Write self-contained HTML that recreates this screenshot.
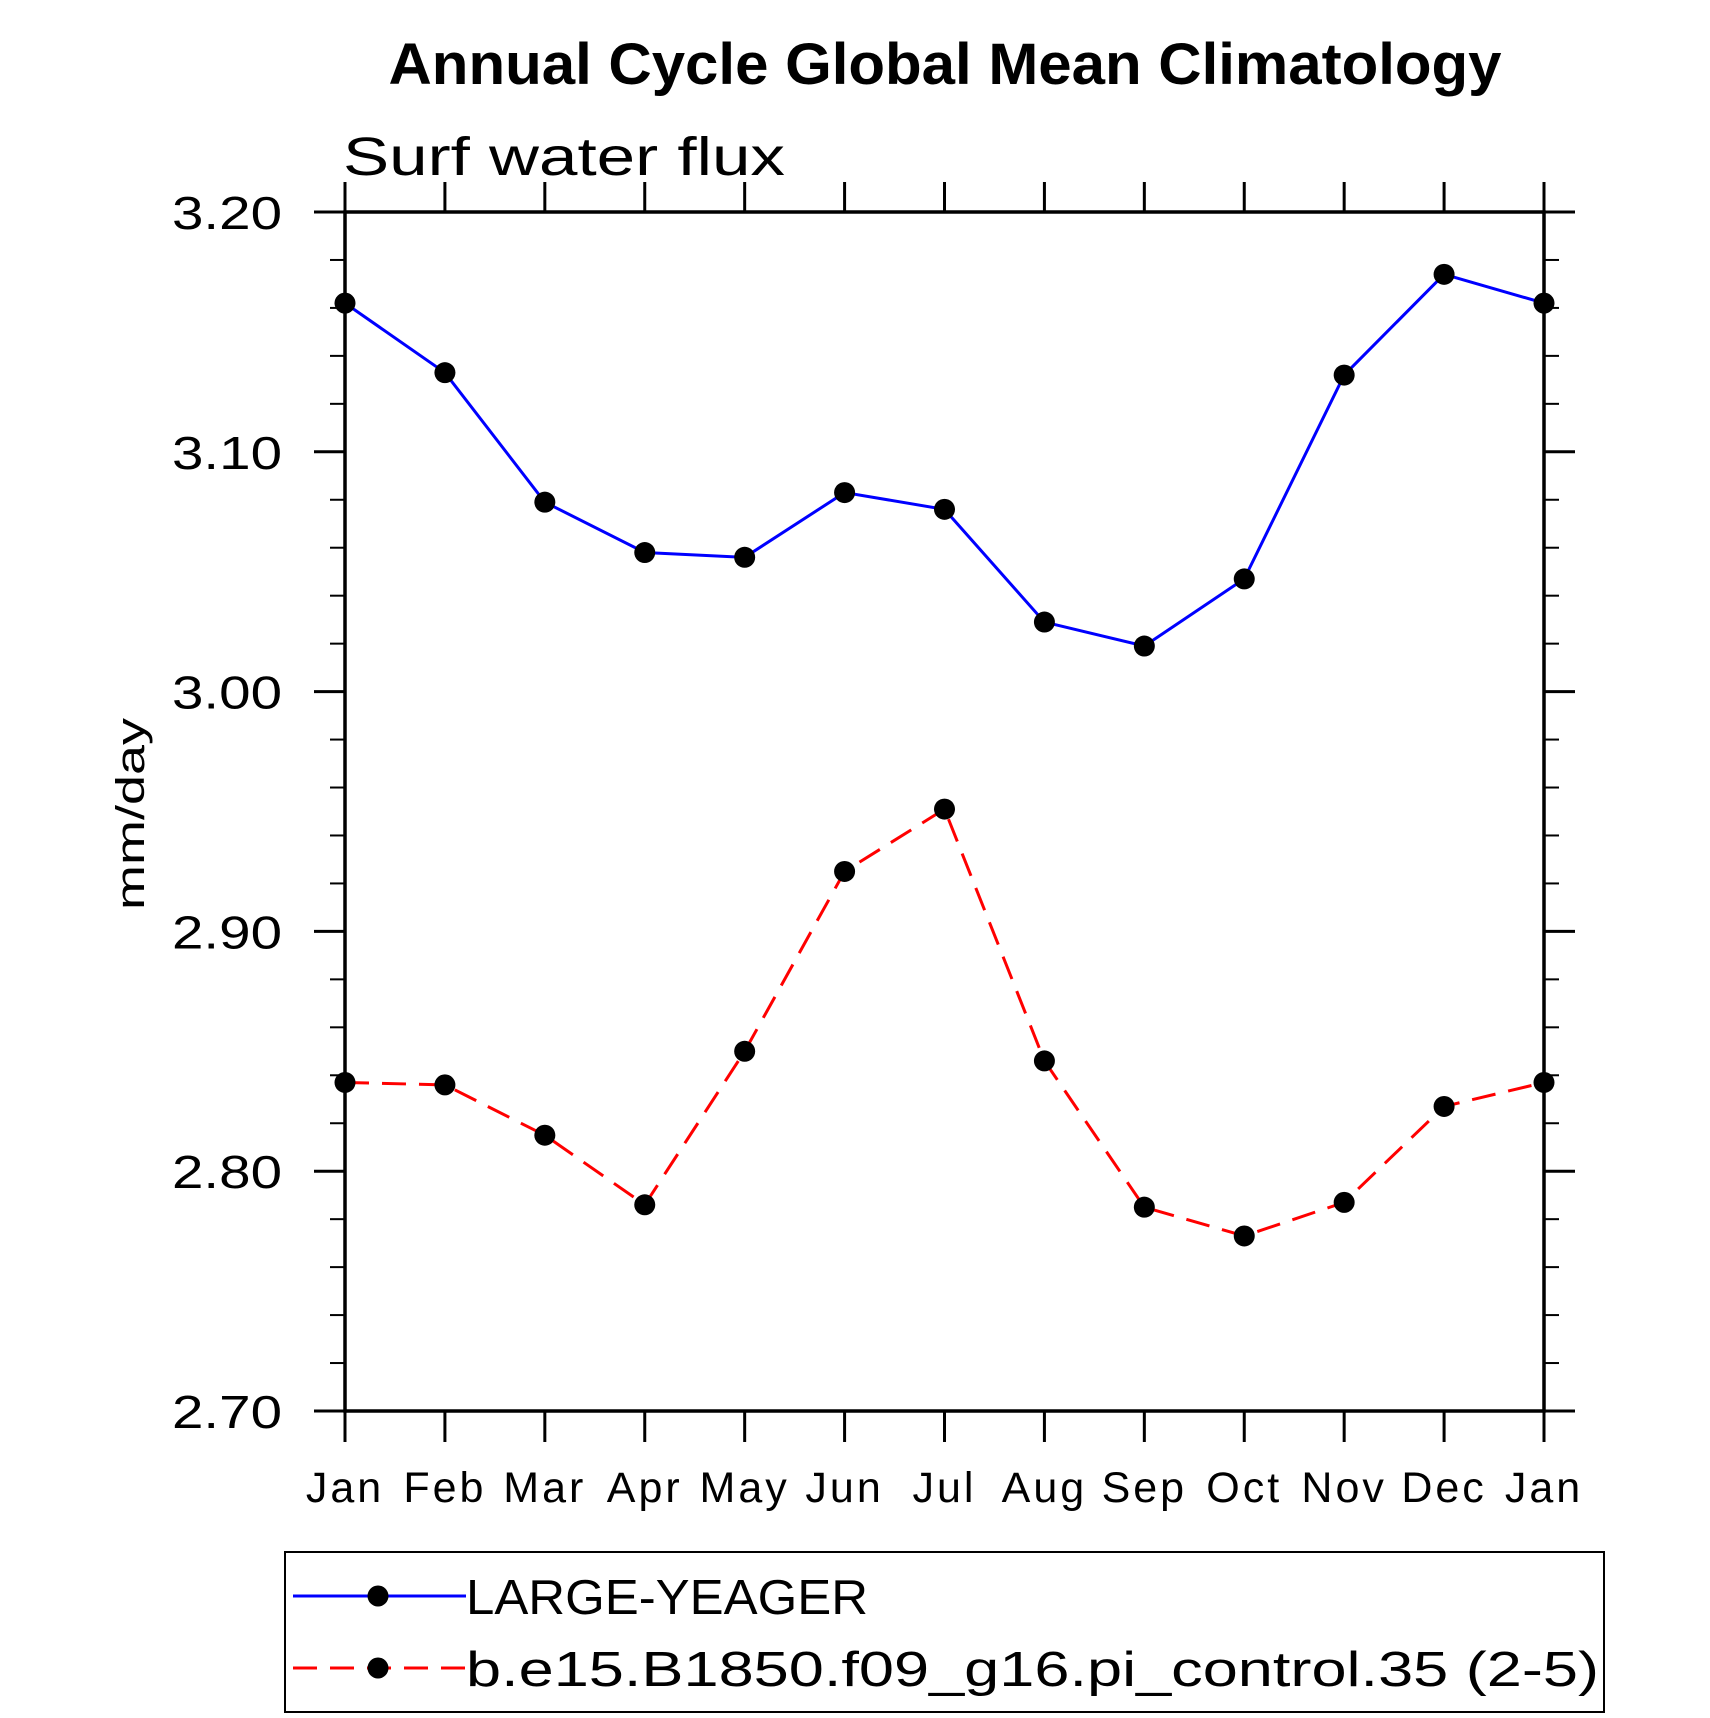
<!DOCTYPE html>
<html><head><meta charset="utf-8"><style>
html,body{margin:0;padding:0;background:#fff;}
svg{display:block;font-family:"Liberation Sans",sans-serif;}
</style></head><body>
<svg id="chart" width="1710" height="1718" xmlns="http://www.w3.org/2000/svg">
<text x="945" y="84" font-size="58" font-weight="bold" text-anchor="middle" textLength="1113" lengthAdjust="spacingAndGlyphs">Annual Cycle Global Mean Climatology</text>
<text x="343" y="175" font-size="54" textLength="442" lengthAdjust="spacingAndGlyphs">Surf water flux</text>
<text transform="translate(144,814) rotate(-90)" font-size="40" text-anchor="middle" textLength="192" lengthAdjust="spacingAndGlyphs">mm/day</text>
<g id="axes"></g>
<g id="series"></g>
<rect x="285" y="1552" width="1319" height="160" fill="none" stroke="#000" stroke-width="2"/>
<g>
<line x1="293" y1="1596" x2="466" y2="1596" stroke="#00f" stroke-width="3"/>
<circle cx="378" cy="1596" r="10.5" fill="#000"/>
<text x="466" y="1614" font-size="49" textLength="402" lengthAdjust="spacingAndGlyphs">LARGE-YEAGER</text>
</g>
<g>
<line x1="293" y1="1668" x2="466" y2="1668" stroke="#f00" stroke-width="3" stroke-dasharray="24,13"/>
<circle cx="378" cy="1668" r="10.5" fill="#000"/>
<text x="466" y="1686" font-size="49" textLength="1133" lengthAdjust="spacingAndGlyphs">b.e15.B1850.f09_g16.pi_control.35 (2-5)</text>
</g>
</svg>
<script>
const months = ["Jan","Feb","Mar","Apr","May","Jun","Jul","Aug","Sep","Oct","Nov","Dec","Jan"];
const largeYeager = [3.162,3.133,3.079,3.058,3.056,3.083,3.076,3.029,3.019,3.047,3.132,3.174,3.162];
const control = [2.837,2.836,2.815,2.786,2.850,2.925,2.951,2.846,2.785,2.773,2.787,2.827,2.837];
const yTicks = ["2.70","2.80","2.90","3.00","3.10","3.20"];
const yMin = 2.70, yMax = 3.20;

const NS = "http://www.w3.org/2000/svg";
const L = 345, R = 1544, T = 212, B = 1411;
const xs = i => L + (R - L) * i / (months.length - 1);
const ys = v => B - (B - T) * (v - yMin) / (yMax - yMin);
function mk(tag, attrs, parent) {
  const e = document.createElementNS(NS, tag);
  for (const k in attrs) e.setAttribute(k, attrs[k]);
  parent.appendChild(e);
  return e;
}
const ax = document.getElementById("axes");
const frame = mk("rect", {x:L, y:T, width:R-L, height:B-T, fill:"none", stroke:"#000", "stroke-width":3.5}, ax);


months.forEach((m, i) => {
  const x = xs(i);
  mk("line", {x1:x, y1:T, x2:x, y2:T-30, stroke:"#000", "stroke-width":3}, ax);
  mk("line", {x1:x, y1:B, x2:x, y2:B+31, stroke:"#000", "stroke-width":3}, ax);
  const t = mk("text", {x:x, y:1502, "font-size":43, "text-anchor":"middle", "letter-spacing":"3"}, ax);
  
  
  t.textContent = m;
});
for (let k = 0; k <= 25; k++) {
  const v = yMin + k * 0.02;
  const y = ys(v);
  const major = k % 5 === 0;
  const len = major ? 31 : 15;
  mk("line", {x1:L, y1:y, x2:L-len, y2:y, stroke:"#000", "stroke-width":major?3:2}, ax);
  mk("line", {x1:R, y1:y, x2:R+len, y2:y, stroke:"#000", "stroke-width":major?3:2}, ax);
}
yTicks.forEach(lbl => {
  const y = ys(parseFloat(lbl));
  const t = mk("text", {x:282, y:y+17, "font-size":46, "text-anchor":"end", textLength:110, lengthAdjust:"spacingAndGlyphs"}, ax);
  
  
  t.textContent = lbl;
});
const sg = document.getElementById("series");
function drawSeries(vals, color, dash, name) {
  const g = mk("g", {}, sg);
  
  
  const pts = vals.map((v, i) => xs(i) + "," + ys(v)).join(" ");
  const attrs = {points:pts, fill:"none", stroke:color, "stroke-width":3};
  if (dash) attrs["stroke-dasharray"] = dash;
  const pl = mk("polyline", attrs, g);
  
  
  vals.forEach((v, i) => {
    const c = mk("circle", {cx:xs(i), cy:ys(v), r:10.5, fill:"#000"}, g);
    
    
  });
}
drawSeries(largeYeager, "#00f", null, "large-yeager-series");
drawSeries(control, "#f00", "24,13", "control-series");
</script>
</body></html>
